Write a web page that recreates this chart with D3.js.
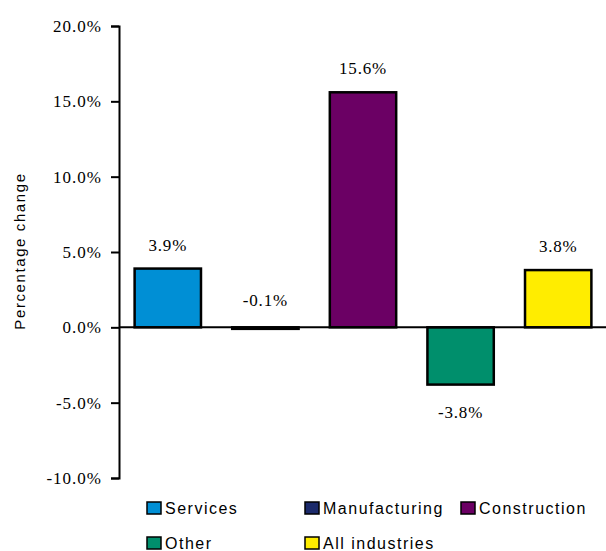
<!DOCTYPE html>
<html>
<head>
<meta charset="utf-8">
<script src="https://cdn.jsdelivr.net/npm/d3@7"></script>
<style>
  body { margin: 0; background: #fff; }
  svg { display: block; }
  .serif { font-family: 'Liberation Serif', Tinos, 'Times New Roman', Times, 'Noto Serif', 'DejaVu Serif', serif; }
  .sans { font-family: 'Liberation Sans', Arimo, Arial, 'DejaVu Sans', sans-serif; }
</style>
</head>
<body>
<svg id="chart"></svg>
<script>
const categories = ['Services', 'Manufacturing', 'Construction', 'Other', 'All industries'];
const values = [3.9, -0.1, 15.6, -3.8, 3.8];
const colors = ['#008fd5', '#1b2a6b', '#6b0064', '#008f6c', '#ffed00'];
const yTicks = [-10, -5, 0, 5, 10, 15, 20];

const width = 606;
const height = 551;
const pct = d => d3.format('.1f')(d).replace('\u2212', '-') + '%';

const svg = d3.select('#chart')
  .attr('width', width)
  .attr('height', height);

const x = d3.scaleBand()
  .domain(categories)
  .range([119, 607])
  .paddingInner(0.32)
  .paddingOuter(0.16);

const y = d3.scaleLinear()
  .domain([-10, 20])
  .range([478, 26]);

// y axis
const yAxis = svg.append('g')
  .attr('transform', 'translate(119,0)')
  .call(d3.axisLeft(y).tickValues(yTicks).tickSize(8).tickPadding(9).tickFormat(pct));
yAxis.attr('font-family', null).attr('font-size', null);
yAxis.select('.domain').attr('stroke', '#000').attr('stroke-width', 2);
yAxis.selectAll('.tick line').attr('stroke', '#000').attr('stroke-width', 2);
yAxis.selectAll('.tick text')
  .attr('class', 'serif')
  .attr('fill', '#000')
  .style('font-size', '17px')
  .style('letter-spacing', '1px');

svg.append('text')
  .attr('class', 'sans')
  .attr('transform', 'translate(25,251) rotate(-90)')
  .attr('text-anchor', 'middle')
  .style('font-size', '15px')
  .style('letter-spacing', '1.6px')
  .text('Percentage change');

// bars
svg.append('g').selectAll('rect')
  .data(values)
  .join('rect')
  .attr('x', (d, i) => x(categories[i]))
  .attr('width', x.bandwidth())
  .attr('y', d => y(Math.max(0, d)))
  .attr('height', d => Math.max(Math.abs(y(d) - y(0)), 1))
  .attr('fill', (d, i) => colors[i])
  .attr('stroke', '#000')
  .attr('stroke-width', 2.5);

// zero line
svg.append('line')
  .attr('x1', 119).attr('x2', width)
  .attr('y1', y(0)).attr('y2', y(0))
  .attr('stroke', '#000')
  .attr('stroke-width', 2);

// value labels
svg.append('g').selectAll('text')
  .data(values)
  .join('text')
  .attr('class', 'serif')
  .attr('x', (d, i) => x(categories[i]) + x.bandwidth() / 2)
  .attr('y', d => d >= 0 ? y(d) - 18 : (d > -1 ? y(0) - 21 : y(d) + 33))
  .attr('text-anchor', 'middle')
  .style('font-size', '17px')
  .style('letter-spacing', '0.8px')
  .text(pct);

// legend
const legendPos = [[147, 508], [305, 508], [461, 508], [147, 543], [305, 543]];
const legend = svg.append('g').selectAll('g')
  .data(categories)
  .join('g')
  .attr('transform', (d, i) => `translate(${legendPos[i][0]},${legendPos[i][1]})`);
legend.append('rect')
  .attr('x', 0).attr('y', -6)
  .attr('width', 14).attr('height', 12)
  .attr('fill', (d, i) => colors[i])
  .attr('stroke', '#000')
  .attr('stroke-width', 1.5);
legend.append('text')
  .attr('class', 'sans')
  .attr('x', 18)
  .attr('y', 6)
  .style('font-size', '16px')
  .style('letter-spacing', '1.5px')
  .text(d => d);
</script>
</body>
</html>
